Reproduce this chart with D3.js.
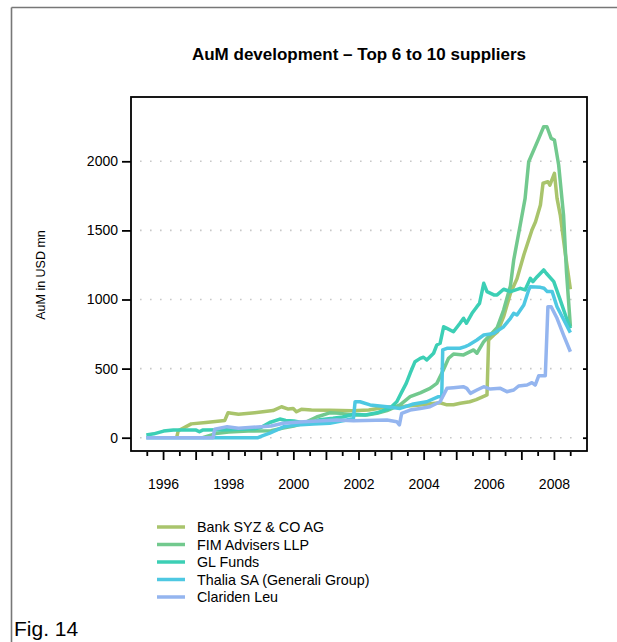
<!DOCTYPE html>
<html>
<head>
<meta charset="utf-8">
<script src="https://cdn.jsdelivr.net/npm/d3@7"></script>
<style>
  html, body { margin: 0; padding: 0; background: #fff; }
  svg { display: block; font-family: "Liberation Sans", Arial, Helvetica, sans-serif; }
</style>
</head>
<body>
<svg id="chart" width="617" height="642"></svg>
<script>
// ---------- DATA ----------
const seriesNames = ["Bank SYZ & CO AG", "FIM Advisers LLP", "GL Funds", "Thalia SA (Generali Group)", "Clariden Leu"];
const seriesColors = ["#a9c46c", "#72c98e", "#3ccfb5", "#4ec8e2", "#94b5ef"];

const bankSyz = [[1996.40,0],[1996.45,50],[1996.85,100],[1997.3,110],[1997.88,125],[1997.98,181],[1998.3,169],[1998.8,181],[1999.36,196],[1999.62,224],[1999.83,207],[1999.98,212],[2000.08,188],[2000.23,205],[2000.54,200],[2001.1,198],[2001.8,195],[2002.3,200],[2002.85,222],[2003.4,228],[2003.87,236],[2004.2,245],[2004.49,253],[2004.7,238],[2004.9,238],[2005.11,249],[2005.4,260],[2005.6,275],[2005.88,305],[2005.93,310],[2005.98,707],[2006.14,743],[2006.25,765],[2006.44,876],[2006.65,1045],[2006.85,1150],[2007.06,1322],[2007.31,1503],[2007.42,1563],[2007.57,1684],[2007.65,1841],[2007.8,1852],[2007.86,1827],[2008.0,1913],[2008.08,1732],[2008.18,1611],[2008.34,1322],[2008.49,1075]];

const fimAdvisers = [[1997.2,0],[1997.6,30],[1998.0,42],[1998.6,48],[1999.3,50],[1999.67,70],[2000.0,85],[2000.29,104],[2000.7,150],[2001.1,180],[2001.42,176],[2001.83,164],[2002.24,164],[2002.55,176],[2002.86,196],[2003.26,237],[2003.57,297],[2003.88,325],[2004.18,357],[2004.39,393],[2004.59,490],[2004.75,575],[2004.9,605],[2005.21,599],[2005.52,635],[2005.62,611],[2005.83,695],[2005.93,719],[2006.03,743],[2006.24,795],[2006.44,924],[2006.65,1100],[2006.75,1286],[2006.95,1539],[2007.1,1732],[2007.21,1997],[2007.52,2166],[2007.67,2250],[2007.77,2250],[2007.9,2166],[2008.0,2154],[2008.13,1973],[2008.28,1611],[2008.37,1200],[2008.49,803]];

const glFunds = [[1995.47,20],[1995.7,28],[1996.0,48],[1996.3,55],[1997.0,55],[1997.1,43],[1997.2,55],[1998.0,58],[1998.8,65],[1999.0,75],[1999.26,110],[1999.57,135],[1999.75,125],[2000.0,121],[2000.2,112],[2000.4,104],[2000.6,115],[2000.8,130],[2001.2,140],[2001.5,150],[2001.83,170],[2002.2,165],[2002.55,180],[2002.95,213],[2003.16,260],[2003.31,330],[2003.45,393],[2003.57,466],[2003.72,550],[2003.88,574],[2003.98,582],[2004.08,562],[2004.29,611],[2004.39,671],[2004.49,683],[2004.6,803],[2004.7,791],[2004.9,767],[2005.1,828],[2005.21,864],[2005.3,828],[2005.47,900],[2005.62,948],[2005.7,972],[2005.83,1117],[2005.93,1057],[2006.14,1033],[2006.24,1033],[2006.44,1074],[2006.65,1057],[2006.95,1081],[2007.1,1069],[2007.26,1153],[2007.34,1129],[2007.47,1165],[2007.67,1214],[2007.75,1190],[2007.98,1129],[2008.18,996],[2008.39,852],[2008.49,791]];

const thaliaSA = [[1995.47,0],[1998.9,0],[1999.05,15],[1999.26,33],[1999.5,58],[1999.7,80],[2000.08,92],[2000.6,100],[2001.1,104],[2001.62,128],[2001.83,140],[2001.88,260],[2002.03,260],[2002.34,237],[2002.86,224],[2003.26,212],[2003.67,244],[2004.08,260],[2004.44,297],[2004.54,297],[2004.57,635],[2004.7,647],[2005.1,647],[2005.26,659],[2005.37,671],[2005.62,707],[2005.83,743],[2006.14,755],[2006.44,803],[2006.65,864],[2006.75,900],[2006.85,888],[2007.06,960],[2007.21,1069],[2007.26,1093],[2007.57,1088],[2007.68,1081],[2007.78,1057],[2007.93,1057],[2008.08,948],[2008.29,852],[2008.49,760]];

const claridenLeu = [[1995.47,0],[1997.52,0],[1997.57,61],[1997.95,80],[1998.3,68],[1999.0,80],[1999.3,85],[1999.67,104],[2000.29,116],[2000.9,123],[2001.3,128],[2001.83,123],[2002.86,128],[2003.16,116],[2003.24,92],[2003.31,176],[2003.57,200],[2003.88,212],[2004.18,224],[2004.49,260],[2004.7,357],[2004.9,362],[2005.2,369],[2005.31,357],[2005.42,321],[2005.62,345],[2005.83,369],[2006.03,352],[2006.34,357],[2006.54,333],[2006.75,345],[2006.9,374],[2007.16,381],[2007.31,398],[2007.41,381],[2007.52,449],[2007.72,449],[2007.8,948],[2007.9,948],[2008.08,864],[2008.28,743],[2008.49,622]];

const yTicks = [0, 500, 1000, 1500, 2000];
const xLabelYears = [1996, 1998, 2000, 2002, 2004, 2006, 2008];
const xMinorTicks = [1995.5,1996,1996.5,1997,1997.5,1998,1998.5,1999,1999.5,2000,2000.5,2001,2001.5,2002,2002.5,2003,2003.5,2004,2004.5,2005,2005.5,2006,2006.5,2007,2007.5,2008,2008.5];

const titleText = "AuM development \u2013 Top 6 to 10 suppliers";
const yLabelText = "AuM in USD mn";
const figText = "Fig. 14";

// ---------- DRAW ----------
const allSeries = [bankSyz, fimAdvisers, glFunds, thaliaSA, claridenLeu];
const svg = d3.select("#chart");

const box = {left: 131, right: 587, top: 97, bottom: 451};

const x = d3.scaleLinear().domain([1995, 2009]).range([box.left, box.right]);
// y(0)=437.7, y(2000)=161.3
const yScaleFactor = (437.7 - 161.3) / 2000;
const y = d3.scaleLinear()
  .domain([(437.7 - box.bottom) / yScaleFactor, (437.7 - box.top) / yScaleFactor])
  .range([box.bottom, box.top]);

// outer frame (top & left)
svg.append("line").attr("x1", 11.5).attr("x2", 617).attr("y1", 7.5).attr("y2", 7.5)
  .attr("stroke", "#777").attr("stroke-width", 1.6);
svg.append("line").attr("x1", 11.5).attr("x2", 11.5).attr("y1", 7.5).attr("y2", 642)
  .attr("stroke", "#777").attr("stroke-width", 1.6);

// grid
svg.append("g").selectAll("line").data(yTicks).join("line")
  .attr("x1", 140).attr("x2", 580)
  .attr("y1", d => y(d)).attr("y2", d => y(d))
  .attr("stroke", "#c8c8c8").attr("stroke-width", 1.6)
  .attr("stroke-dasharray", "1.6,8.4");

// lines
const line = d3.line().x(d => x(d[0])).y(d => y(d[1]));
svg.append("g").selectAll("path").data(allSeries).join("path")
  .attr("d", line)
  .attr("fill", "none")
  .attr("stroke", (d, i) => seriesColors[i])
  .attr("stroke-width", 3.5)
  .attr("stroke-linejoin", "round")
  .attr("stroke-linecap", "butt");

// box
svg.append("rect")
  .attr("x", box.left).attr("y", box.top)
  .attr("width", box.right - box.left).attr("height", box.bottom - box.top)
  .attr("fill", "none").attr("stroke", "#000").attr("stroke-width", 1.8);

// left axis
const yAxis = d3.axisLeft(y).tickValues(yTicks).tickSize(9).tickPadding(4).tickFormat(d3.format("d"));
const gy = svg.append("g").attr("transform", `translate(${box.left},0)`).call(yAxis);
gy.select(".domain").remove();
gy.selectAll(".tick line").attr("stroke", "#000").attr("stroke-width", 1.8);
gy.selectAll(".tick text").attr("font-size", 14).attr("fill", "#000")
  .attr("font-family", "'Liberation Sans', Arial, sans-serif");

// right axis (inward small ticks)
const yAxisR = d3.axisLeft(y).tickValues(yTicks).tickSize(4).tickFormat("");
const gyr = svg.append("g").attr("transform", `translate(${box.right},0)`).call(yAxisR);
gyr.select(".domain").remove();
gyr.selectAll(".tick line").attr("stroke", "#000").attr("stroke-width", 1.8);

// bottom axis ticks
const gx = svg.append("g").attr("transform", `translate(0,${box.bottom + 1})`);
gx.selectAll("line").data(xMinorTicks).join("line")
  .attr("x1", d => x(d)).attr("x2", d => x(d))
  .attr("y1", 0).attr("y2", d => Number.isInteger(d) ? 8 : 4)
  .attr("stroke", "#000").attr("stroke-width", 1.8);
gx.selectAll("text").data(xLabelYears).join("text")
  .attr("x", d => x(d)).attr("y", 37)
  .attr("text-anchor", "middle").attr("font-size", 14).attr("fill", "#000")
  .text(d => d);

// title
svg.append("text").attr("x", (box.left + box.right) / 2).attr("y", 60)
  .attr("text-anchor", "middle").attr("font-size", 17).attr("font-weight", "bold")
  .text(titleText);

// y label
svg.append("text")
  .attr("transform", `translate(45,275) rotate(-90)`)
  .attr("text-anchor", "middle").attr("font-size", 12.5)
  .text(yLabelText);

// legend
const legend = svg.append("g");
const legRows = legend.selectAll("g").data(seriesNames).join("g")
  .attr("transform", (d, i) => `translate(0,${527 + i * 17.5})`);
legRows.append("line").attr("x1", 157).attr("x2", 185).attr("y1", 0).attr("y2", 0)
  .attr("stroke", (d, i) => seriesColors[i]).attr("stroke-width", 3.5);
legRows.append("text").attr("x", 197).attr("y", 5).attr("font-size", 14.3).text(d => d);

// figure label
svg.append("text").attr("x", 14).attr("y", 636).attr("font-size", 21).text(figText);
</script>
</body>
</html>
